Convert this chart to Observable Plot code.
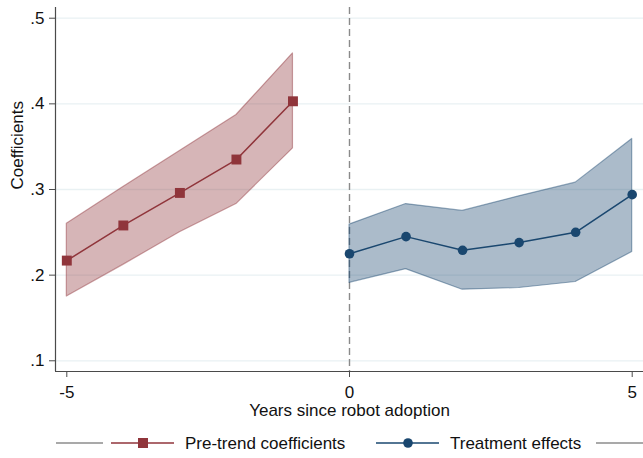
<!DOCTYPE html>
<html>
<head>
<meta charset="utf-8">
<script src="https://cdn.jsdelivr.net/npm/d3@7"></script>
<script src="https://cdn.jsdelivr.net/npm/@observablehq/plot@0.6"></script>
<style>
  html, body { margin: 0; padding: 0; background: white; }
  #wrap { width: 643px; font-family: 'Liberation Sans', Arial, sans-serif; }
  #legend { display: block; }
</style>
</head>
<body>
<div id="wrap"></div>
<script>
// ---- data ----
const preYears = [-5, -4, -3, -2, -1];
const preCoef  = [0.217, 0.258, 0.296, 0.335, 0.403];
const preLo    = [0.175, 0.212, 0.250, 0.283, 0.348];
const preHi    = [0.260, 0.303, 0.345, 0.387, 0.459];

const postYears = [0, 1, 2, 3, 4, 5];
const postCoef  = [0.225, 0.245, 0.229, 0.238, 0.250, 0.294];
const postLo    = [0.191, 0.207, 0.183, 0.185, 0.192, 0.227];
const postHi    = [0.259, 0.283, 0.275, 0.292, 0.308, 0.359];

const xTicks = [-5, 0, 5];
const yTicks = [0.1, 0.2, 0.3, 0.4, 0.5];
const xTitle = "Years since robot adoption";
const yTitle = "Coefficients";
const legendLabels = ["Pre-trend coefficients", "Treatment effects"];

// ---- style ----
const red = "#90353b";
const blue = "#1a476f";
const gridColor = "#e9f1f3";
const axisColor = "#4a4a4a";
const xDomain = [-5.2, 5.2];
const yDomain = [0.0875, 0.5125];

const pre = preYears.map((year, i) => ({year, coef: preCoef[i], lo: preLo[i], hi: preHi[i]}));
const post = postYears.map((year, i) => ({year, coef: postCoef[i], lo: postLo[i], hi: postHi[i]}));

const fmtY = d => d3.format(".1f")(d).replace(/^0/, "");
const fmtX = d => String(d);

const chart = Plot.plot({
  width: 643,
  height: 425,
  marginLeft: 55,
  marginRight: 0,
  marginTop: 7,
  marginBottom: 54,
  style: {fontFamily: "'Liberation Sans', Arial, sans-serif", fontSize: "17px", background: "white", color: "#111"},
  x: {domain: xDomain},
  y: {domain: yDomain},
  marks: [
    Plot.gridY(yTicks, {stroke: gridColor, strokeOpacity: 1, strokeWidth: 1.3}),
    Plot.ruleX([0], {stroke: "#8a8a8a", strokeDasharray: "7,4", strokeWidth: 1.4}),
    Plot.areaY(pre, {x: "year", y1: "lo", y2: "hi", fill: red, fillOpacity: 0.37, stroke: red, strokeOpacity: 0.45, strokeWidth: 1.2}),
    Plot.areaY(post, {x: "year", y1: "lo", y2: "hi", fill: blue, fillOpacity: 0.37, stroke: blue, strokeOpacity: 0.45, strokeWidth: 1.2}),
    Plot.line(pre, {x: "year", y: "coef", stroke: red, strokeWidth: 1.5}),
    Plot.line(post, {x: "year", y: "coef", stroke: blue, strokeWidth: 1.5}),
    Plot.dot(pre, {x: "year", y: "coef", symbol: "square", r: 5.6, fill: red, stroke: "none"}),
    Plot.dot(post, {x: "year", y: "coef", symbol: "circle", r: 4.8, fill: blue, stroke: "none"}),
    Plot.axisX({ticks: xTicks, tickSize: 6, tickPadding: 8, tickFormat: fmtX, label: null, stroke: axisColor}),
    Plot.axisY({ticks: yTicks, tickSize: 6, tickPadding: 5, tickFormat: fmtY, label: null, stroke: axisColor}),
    Plot.ruleX([xDomain[0]], {stroke: axisColor, strokeWidth: 1.2}),
    Plot.ruleY([yDomain[0]], {stroke: axisColor, strokeWidth: 1.2}),
    Plot.text([xTitle], {text: d => d, frameAnchor: "bottom", dy: 38.6, lineAnchor: "middle"}),
    Plot.text([yTitle], {text: d => d, frameAnchor: "left", dx: -38.4, rotate: -90, lineAnchor: "middle"})
  ]
});
document.getElementById("wrap").appendChild(chart);

// ---- legend (below the chart) ----
const lg = d3.create("svg").attr("id", "legend").attr("width", 643).attr("height", 33)
  .style("font-family", "'Liberation Sans', Arial, sans-serif").style("font-size", "17px");
const ly = 18;
lg.append("line").attr("x1", 56).attr("x2", 103).attr("y1", ly).attr("y2", ly).attr("stroke", "#8c8c8c").attr("stroke-width", 1.3);
lg.append("line").attr("x1", 111).attr("x2", 174).attr("y1", ly).attr("y2", ly).attr("stroke", red).attr("stroke-width", 1.5);
lg.append("rect").attr("x", 143 - 5).attr("y", ly - 5).attr("width", 10).attr("height", 10).attr("fill", red);
lg.append("text").attr("x", 185).attr("y", ly).attr("dy", "0.35em").attr("fill", "#111").text(legendLabels[0]);
lg.append("line").attr("x1", 376).attr("x2", 439).attr("y1", ly).attr("y2", ly).attr("stroke", blue).attr("stroke-width", 1.5);
lg.append("circle").attr("cx", 408).attr("cy", ly).attr("r", 4.8).attr("fill", blue);
lg.append("text").attr("x", 450).attr("y", ly).attr("dy", "0.35em").attr("fill", "#111").text(legendLabels[1]);
lg.append("line").attr("x1", 596).attr("x2", 643).attr("y1", ly).attr("y2", ly).attr("stroke", "#8c8c8c").attr("stroke-width", 1.3);
document.getElementById("wrap").appendChild(lg.node());
</script>
</body>
</html>
